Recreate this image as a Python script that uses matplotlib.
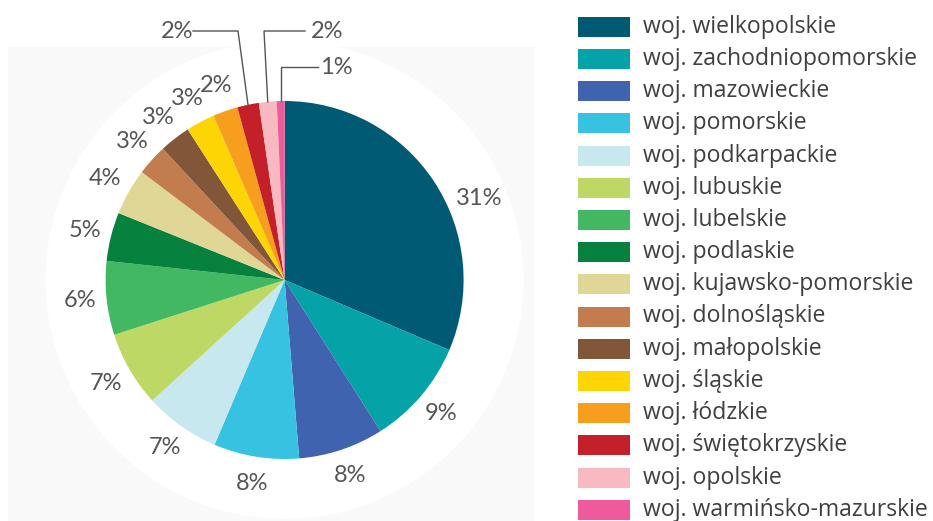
import numpy as np
import matplotlib
matplotlib.use("Agg")
import matplotlib.pyplot as plt
from matplotlib.patches import Rectangle, Ellipse

# ---- data ----
regions = [
    "woj. wielkopolskie", "woj. zachodniopomorskie", "woj. mazowieckie",
    "woj. pomorskie", "woj. podkarpackie", "woj. lubuskie", "woj. lubelskie",
    "woj. podlaskie", "woj. kujawsko-pomorskie", "woj. dolnośląskie",
    "woj. małopolskie", "woj. śląskie", "woj. łódzkie", "woj. świętokrzyskie",
    "woj. opolskie", "woj. warmińsko-mazurskie",
]
shares = [31.4, 9.6, 7.7, 7.7, 6.85, 6.8, 6.65, 4.4, 4.2, 2.8, 2.8, 2.6, 2.25, 1.95, 1.6, 0.7]
pct_labels = ["31%", "9%", "8%", "8%", "7%", "7%", "6%", "5%", "4%", "3%",
              "3%", "3%", "2%", "2%", "2%", "1%"]
colors = ["#005a73", "#05a3a8", "#3f63ae", "#37c2e2", "#c6e8ee", "#bdd865",
          "#43b863", "#06813e", "#e0d696", "#c37c4d", "#825638", "#fdd505",
          "#f79e1f", "#c4202a", "#f8b9c0", "#ee5a9c"]

W, H = 933, 521
fig = plt.figure(figsize=(W / 100, H / 100), dpi=100)
ax = fig.add_axes([0, 0, 1, 1])

cx, cy, R = 284.6, 280.0, 179.0  # pixel geometry of pie
def px(x, y):
    return ((x - cx) / R, (cy - y) / R)

# background
x0, y0 = px(8, 47)
x1, y1 = px(534, 521)
ax.add_patch(Rectangle((x0, y1), x1 - x0, y0 - y1, facecolor="#f9f9f9",
                       edgecolor="none", zorder=0))
ax.add_patch(Ellipse((0, 0), 2 * 1.335, 2 * 1.335, facecolor="white",
                     edgecolor="none", zorder=0.5))

wedges, _ = ax.pie(shares, colors=colors, startangle=90, counterclock=False,
                   radius=1.0, center=(0, 0),
                   wedgeprops=dict(linewidth=0), normalize=True)
for w in wedges:
    w.set_zorder(2)

label_font = dict(family=["Lato", "DejaVu Sans"], fontsize=17, color="#555555")
n = len(shares)
for i, w in enumerate(wedges):
    t1, t2 = w.theta1, w.theta2
    mid = np.deg2rad((t1 + t2) / 2)
    if i < n - 3:
        ang = mid
        r = 1.15
        if i == 0:
            ang = np.deg2rad(t1 + 0.405 * (t2 - t1))
            r = 1.18
        ax.text(r * np.cos(ang), r * np.sin(ang), pct_labels[i],
                ha="center", va="center", zorder=3, **label_font)

# leader-line labels for the smallest slices
leaders = {
    n - 3: dict(text=(177, 31), elbow=(238, 31), start=(193, 31)),
    n - 2: dict(text=(327, 31), elbow=(264, 31), start=(305, 31)),
    n - 1: dict(text=(336, 67), elbow=None, start=(318, 67)),
}
for i, spec in leaders.items():
    w = wedges[i]
    mid = np.deg2rad((w.theta1 + w.theta2) / 2)
    ex, ey = np.cos(mid), np.sin(mid)
    sx, sy = px(*spec["start"])
    if spec["elbow"] is not None:
        bx, by = px(*spec["elbow"])
    else:
        bx, by = ex, sy
    ax.plot([sx, bx, ex], [sy, by, ey], color="#555555", lw=1.0, zorder=3,
            solid_joinstyle="miter")
    tx, ty = px(*spec["text"])
    ax.text(tx, ty, pct_labels[i], ha="center", va="center", zorder=3, **label_font)

# legend (manual)
leg_font = dict(family=["Open Sans", "DejaVu Sans"], fontsize=16.6, color="#404040")
for i, (name, c) in enumerate(zip(regions, colors)):
    top = 16.7 + i * 32.2
    lx0, ly0 = px(578, top)
    lx1, ly1 = px(630, top + 20)
    ax.add_patch(Rectangle((lx0, ly1), lx1 - lx0, ly0 - ly1, facecolor=c,
                           edgecolor="none", zorder=2))
    tx, ty = px(643, top + 10)
    ax.text(tx, ty, name, ha="left", va="center", zorder=3, **leg_font)

ax.set_aspect("auto")
ax.set_xlim((0 - cx) / R, (W - cx) / R)
ax.set_ylim((cy - H) / R, cy / R)
ax.axis("off")

fig.savefig("out.png", dpi=100, facecolor="white")
